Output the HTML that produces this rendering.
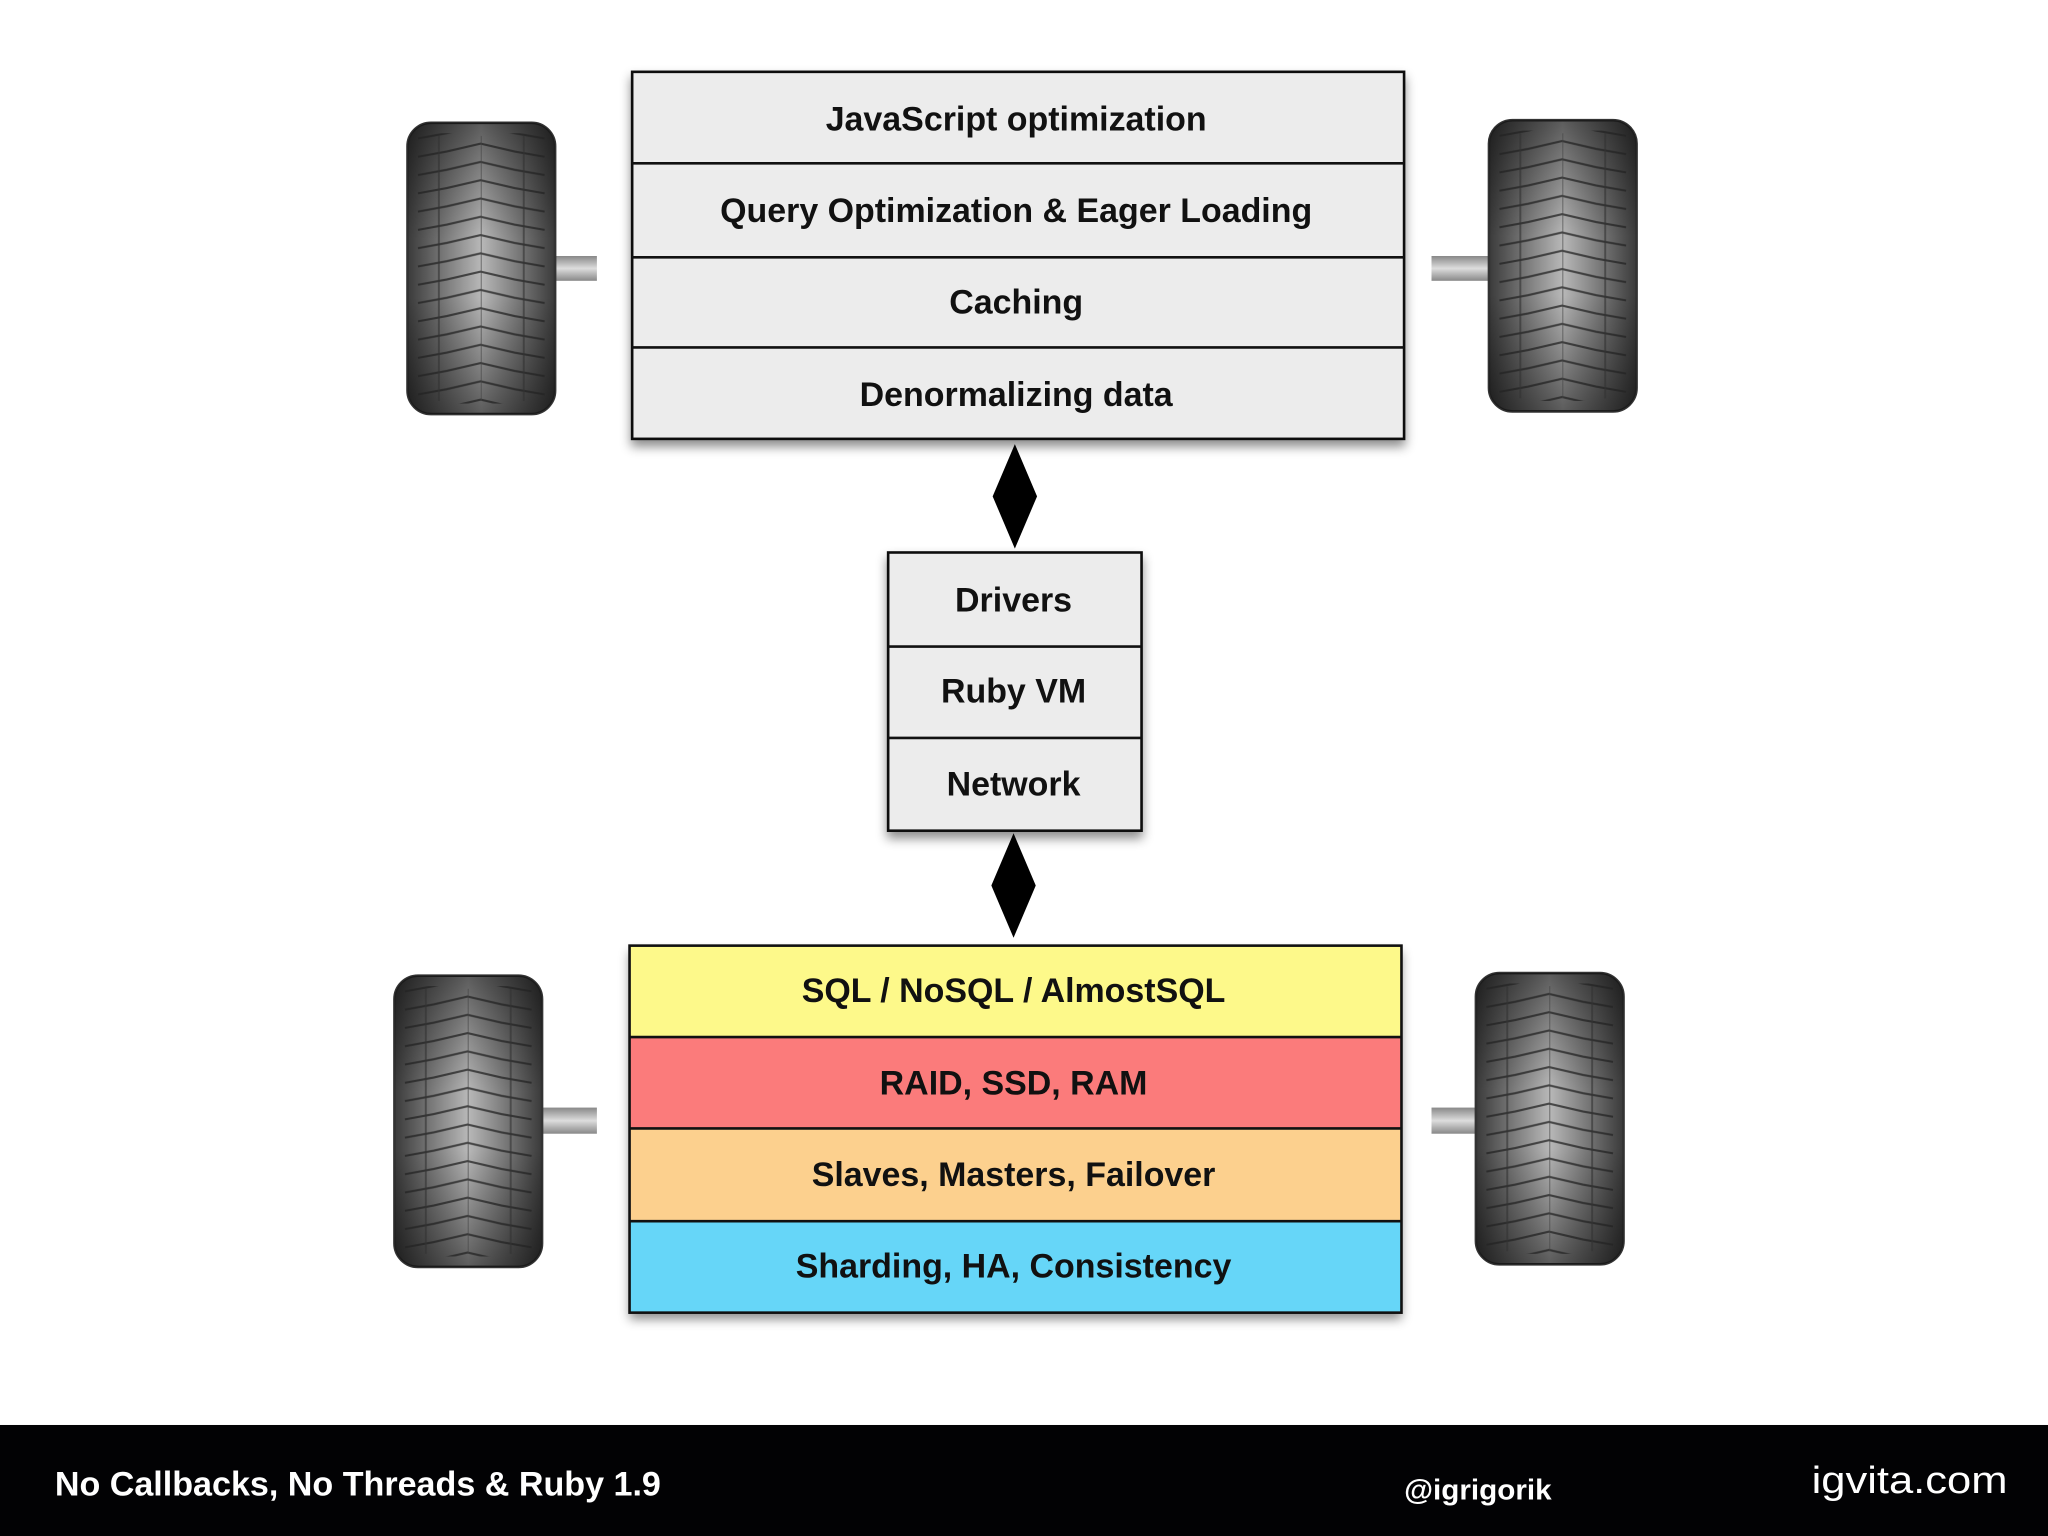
<!DOCTYPE html>
<html><head><meta charset="utf-8"><style>html,body{margin:0;padding:0;background:#fff}svg{display:block}</style></head>
<body>
<svg width="2048" height="1536" viewBox="0 0 1568 1176" xmlns="http://www.w3.org/2000/svg">
<defs>
<linearGradient id="tg" x1="0" x2="1" y1="0" y2="0">
<stop offset="0" stop-color="#3a3a3a"/><stop offset="0.5" stop-color="#b8b8b8"/><stop offset="1" stop-color="#3a3a3a"/>
</linearGradient>
<linearGradient id="tv" x1="0" x2="0" y1="0" y2="1">
<stop offset="0" stop-color="#000" stop-opacity="0.5"/><stop offset="0.4" stop-color="#000" stop-opacity="0"/><stop offset="0.6" stop-color="#000" stop-opacity="0"/><stop offset="1" stop-color="#000" stop-opacity="0.5"/>
</linearGradient>
<linearGradient id="ax" x1="0" x2="0" y1="0" y2="1">
<stop offset="0" stop-color="#888"/><stop offset="0.5" stop-color="#ddd"/><stop offset="1" stop-color="#888"/>
</linearGradient>
<pattern id="tread" x="0" y="0" width="113" height="14" patternUnits="userSpaceOnUse">
<path d="M8 12 L30 8 L56 2 L82 8 L105 12" fill="none" stroke="#222" stroke-width="1.6" opacity="0.75"/>
</pattern>
<g id="tire">
<rect x="0" y="0" width="113" height="223" rx="18" fill="url(#tg)" stroke="#333" stroke-width="2"/>
<rect x="0" y="0" width="113" height="223" rx="18" fill="url(#tv)"/>
<rect x="4" y="8" width="105" height="207" fill="url(#tread)"/>
<line x1="24" y1="10" x2="24" y2="213" stroke="#333" stroke-width="1.5" opacity="0.6"/>
<line x1="89" y1="10" x2="89" y2="213" stroke="#333" stroke-width="1.5" opacity="0.6"/>
<line x1="56.5" y1="10" x2="56.5" y2="213" stroke="#444" stroke-width="1" opacity="0.5"/>
</g>
<filter id="sh" x="-5%" y="-5%" width="110%" height="115%"><feDropShadow dx="0" dy="5" stdDeviation="4" flood-opacity="0.45"/></filter>
</defs>
<rect width="1568" height="1176" fill="#fff"/>
<rect x="420" y="196" width="37" height="19" fill="url(#ax)"/>
<rect x="1096" y="196" width="48" height="19" fill="url(#ax)"/>
<rect x="410" y="848" width="47" height="20" fill="url(#ax)"/>
<rect x="1096" y="848" width="38" height="20" fill="url(#ax)"/>
<use href="#tire" x="312" y="94"/>
<use href="#tire" x="1140" y="92"/>
<use href="#tire" x="302" y="747"/>
<use href="#tire" x="1130" y="745"/>
<g filter="url(#sh)">
<rect x="484" y="55" width="591" height="281" fill="#ececec" stroke="#111" stroke-width="2"/>
</g>
<g stroke="#111" stroke-width="2"><line x1="484" y1="125" x2="1075" y2="125"/><line x1="484" y1="197" x2="1075" y2="197"/><line x1="484" y1="266" x2="1075" y2="266"/></g>
<g font-family="Liberation Sans, sans-serif" font-weight="bold" font-size="26" text-anchor="middle" fill="#111">
<text x="778" y="100">JavaScript optimization</text>
<text x="778" y="170">Query Optimization &amp; Eager Loading</text>
<text x="778" y="240">Caching</text>
<text x="778" y="311">Denormalizing data</text>
</g>
<polygon points="777,340 794,380 777,420 760,380" fill="#000"/>
<polygon points="776,638 793,678 776,718 759,678" fill="#000"/>
<g filter="url(#sh)"><rect x="680" y="423" width="194" height="213" fill="#ececec" stroke="#111" stroke-width="2"/></g>
<g stroke="#111" stroke-width="2"><line x1="680" y1="495" x2="874" y2="495"/><line x1="680" y1="565" x2="874" y2="565"/></g>
<g font-family="Liberation Sans, sans-serif" font-weight="bold" font-size="26" text-anchor="middle" fill="#111">
<text x="776" y="468">Drivers</text>
<text x="776" y="538">Ruby VM</text>
<text x="776" y="609">Network</text>
</g>
<g filter="url(#sh)"><rect x="482" y="724" width="591" height="281" fill="#66d6f8"/></g>
<rect x="482" y="724" width="591" height="70" fill="#fdf98a"/>
<rect x="482" y="794" width="591" height="70" fill="#fb7b7b"/>
<rect x="482" y="864" width="591" height="71" fill="#fcd08e"/>
<rect x="482" y="724" width="591" height="281" fill="none" stroke="#111" stroke-width="2"/>
<g stroke="#111" stroke-width="2"><line x1="482" y1="794" x2="1073" y2="794"/><line x1="482" y1="864" x2="1073" y2="864"/><line x1="482" y1="935" x2="1073" y2="935"/></g>
<g font-family="Liberation Sans, sans-serif" font-weight="bold" font-size="26" text-anchor="middle" fill="#111">
<text x="776" y="767">SQL / NoSQL / AlmostSQL</text>
<text x="776" y="838">RAID, SSD, RAM</text>
<text x="776" y="908">Slaves, Masters, Failover</text>
<text x="776" y="978">Sharding, HA, Consistency</text>
</g>
<rect x="0" y="1091" width="1568" height="85" fill="#020204"/>
<g font-family="Liberation Sans, sans-serif" font-weight="bold" fill="#fff">
<text x="42" y="1145" font-size="26" textLength="464" lengthAdjust="spacingAndGlyphs">No Callbacks, No Threads &amp; Ruby 1.9</text>
<text x="1075" y="1148" font-size="22" textLength="113" lengthAdjust="spacingAndGlyphs">@igrigorik</text>
</g>
<text x="1387" y="1143" font-family="Liberation Sans, sans-serif" font-size="29" fill="#fff" textLength="150" lengthAdjust="spacingAndGlyphs">igvita.com</text>
</svg>
</body></html>
